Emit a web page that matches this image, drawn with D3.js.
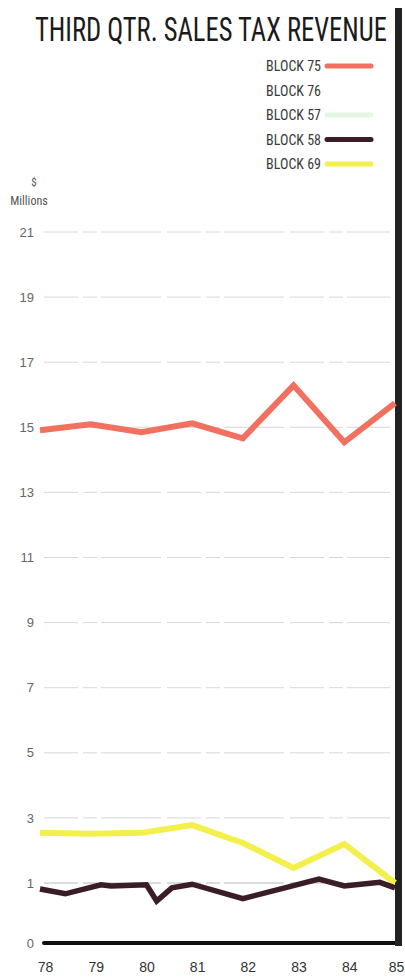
<!DOCTYPE html>
<html>
<head>
<meta charset="utf-8">
<script src="https://cdn.jsdelivr.net/npm/d3@7/dist/d3.min.js"></script>
<style>
  html, body { margin: 0; padding: 0; background: #fff; }
  svg { display: block; }
  text { font-family: "Liberation Sans Narrow", "Roboto Condensed", "Arial Narrow", "Liberation Sans", sans-serif; }
</style>
</head>
<body>
<svg id="chart" width="405" height="980"></svg>
<script>
// Third-quarter sales tax revenue, $ millions, by block, 1978-1985
const years = [78, 79, 80, 81, 82, 83, 84, 85];
const yTicks = [0, 1, 3, 5, 7, 9, 11, 13, 15, 17, 19, 21];

const block75 = [14.91, 15.09, 14.85, 15.12, 14.66, 16.29, 14.54, 15.74];
const block69 = [2.54, 2.51, 2.54, 2.78, 2.23, 1.46, 2.2, 1.0];
// Block 58 was plotted with mid-year readings
const block58Years = [78, 78.5, 79.2, 79.4, 80.1, 80.3, 80.6, 81, 82, 83.5, 84, 84.7, 85];
const block58 = [0.90, 0.82, 0.97, 0.95, 0.97, 0.70, 0.92, 0.98, 0.74, 1.12, 0.95, 1.02, 0.92];

const legendNames = ["BLOCK 75", "BLOCK 76", "BLOCK 57", "BLOCK 58", "BLOCK 69"];
const legendColors = ["#f2705f", null, "#e4f6e2", "#3a1d26", "#f3ef4c"];

const svg = d3.select("#chart");

const x = d3.scaleLinear().domain([78, 85]).range([40, 395]);
// The 0–1 band is drawn taller than the other units on this chart
const y = d3.scaleLinear().domain([0, 1, 21]).range([943, 883, 232]);

// Title, squeezed horizontally to span 35..387
const title = svg.append("text")
  .attr("x", 0).attr("y", 0)
  .attr("font-size", 33).attr("fill", "#1b1b1b")
  .text("THIRD QTR. SALES TAX REVENUE");
const titleW = title.node().getComputedTextLength();
const sx = Math.min(1, 352 / titleW);
title.attr("transform", `translate(35,41) scale(${sx},1)`);

// Unit label
svg.append("text").attr("x", 34).attr("y", 186).attr("text-anchor", "middle")
  .attr("font-size", 11).attr("fill", "#555").text("$");
svg.append("text").attr("x", 29).attr("y", 205).attr("text-anchor", "middle")
  .attr("font-size", 12).attr("fill", "#555").text("Millions");

// Gridlines
svg.append("g").selectAll("line")
  .data(yTicks.filter(d => d > 0))
  .join("line")
  .attr("x1", 44).attr("x2", 390)
  .attr("y1", d => y(d)).attr("y2", d => y(d))
  .attr("stroke", d => d === 1 ? "#b8b8b8" : "#d8d8d8")
  .attr("stroke-width", 1)
  .attr("stroke-dasharray", "34,5,14,4,60,6");

// Y axis labels
const yAxis = svg.append("g").attr("transform", "translate(34,0)")
  .call(d3.axisLeft(y).tickValues(yTicks).tickSize(0).tickPadding(0).tickFormat(d3.format("d")));
yAxis.select(".domain").remove();
yAxis.selectAll("text").attr("font-size", 13).attr("fill", "#666")
  .style("font-family", "'Liberation Sans Narrow', 'Liberation Sans', sans-serif");

// X axis labels
const xAxis = svg.append("g").attr("transform", "translate(5,962)")
  .call(d3.axisBottom(x).tickValues(years).tickSize(0).tickPadding(0).tickFormat(d3.format("d")));
xAxis.select(".domain").remove();
xAxis.selectAll("text").attr("font-size", 14).attr("fill", "#333")
  .style("font-family", "'Liberation Sans Narrow', 'Liberation Sans', sans-serif");
// keep the last year label inside the page
xAxis.selectAll(".tick").filter(d => d === 85).select("text").attr("dx", -4);

// Baseline and right frame bar
svg.append("line")
  .attr("x1", 44).attr("x2", 400).attr("y1", y(0)).attr("y2", y(0))
  .attr("stroke", "#111").attr("stroke-width", 4).attr("stroke-linecap", "round");
svg.append("rect").attr("x", 395).attr("y", 8).attr("width", 7).attr("height", 938)
  .attr("fill", "#222");

// Series lines
const line = d3.line().x(d => x(d[0])).y(d => y(d[1]));
const series = [
  { color: "#f2705f", width: 6, pts: d3.zip(years, block75) },
  { color: "#f3ef4c", width: 6, pts: d3.zip(years, block69) },
  { color: "#3a1d26", width: 5.5, pts: d3.zip(block58Years, block58) }
];
svg.append("g").selectAll("path")
  .data(series)
  .join("path")
  .attr("d", d => line(d.pts))
  .attr("fill", "none")
  .attr("stroke", d => d.color)
  .attr("stroke-width", d => d.width)
  .attr("stroke-linejoin", "miter")
  .attr("stroke-linecap", "butt");

// Legend
const legend = svg.append("g").selectAll("g")
  .data(legendNames)
  .join("g")
  .attr("transform", (d, i) => `translate(0,${66 + i * 24.5})`);
legend.append("text")
  .attr("x", 321).attr("y", 5).attr("text-anchor", "end")
  .attr("font-size", 14).attr("fill", "#3a3a3a")
  .text(d => d);
legend.filter((d, i) => legendColors[i] !== null)
  .append("line")
  .attr("x1", 327).attr("x2", 371).attr("y1", 0).attr("y2", 0)
  .attr("stroke", (d) => legendColors[legendNames.indexOf(d)])
  .attr("stroke-width", 5).attr("stroke-linecap", "round");
</script>
</body>
</html>
